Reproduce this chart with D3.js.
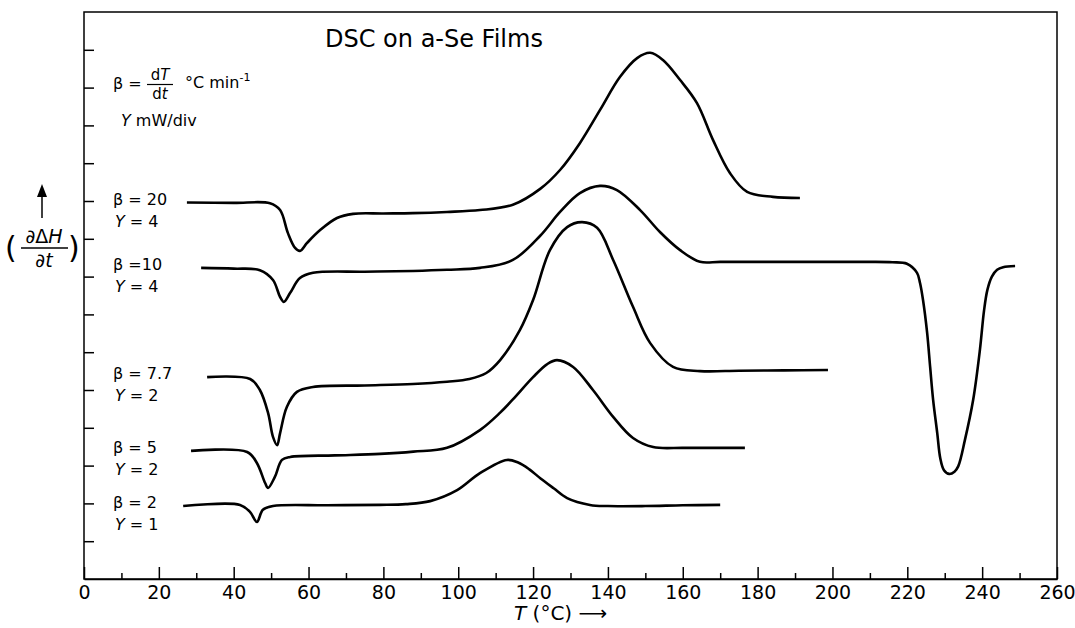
<!DOCTYPE html>
<meta charset="utf-8">
<script src="https://d3js.org/d3.v7.min.js"></script>
<style>
body { margin: 0; background: #fff; }
text { font-family: "DejaVu Sans", sans-serif; fill: #000; }
</style>
<div id="chart"></div>
<script>

// temperature (°C) and signal (in chart divisions) for each run
var t20 = [27.5, 40.0, 49.7, 52.4, 54.5, 56.4, 57.7, 59.6, 63.1, 67.6, 71.9, 80.0, 87.9, 97.0, 105.8, 114.6, 121.9, 127.2, 132.5, 137.9, 143.2, 147.8, 151.3, 154.7, 159.3, 163.8, 168.1, 172.6, 177.2, 184.1, 191.3];
var s20 = [9.96, 9.95, 9.94, 9.76, 9.15, 8.76, 8.68, 8.89, 9.23, 9.55, 9.66, 9.67, 9.68, 9.71, 9.76, 9.90, 10.32, 10.82, 11.53, 12.41, 13.28, 13.78, 13.92, 13.73, 13.20, 12.59, 11.61, 10.74, 10.24, 10.11, 10.08];

var t10 = [31.3, 40.0, 47.0, 50.5, 52.4, 53.4, 55.1, 57.7, 61.2, 75.0, 87.9, 97.0, 105.8, 114.6, 121.9, 127.2, 132.5, 137.9, 142.4, 148.6, 153.9, 159.3, 164.6, 170.0, 180.0, 190.0, 202.0, 210.0, 216.0, 219.9, 222.6, 223.4, 224.2, 225.3, 226.1, 226.9, 228.0, 228.8, 229.8, 231.2, 232.6, 233.6, 235.4, 237.6, 239.4, 240.5, 241.4, 242.6, 244.0, 245.6, 248.8];
var s10 = [8.23, 8.21, 8.17, 7.91, 7.46, 7.33, 7.57, 7.96, 8.10, 8.13, 8.15, 8.18, 8.23, 8.44, 9.08, 9.71, 10.21, 10.40, 10.29, 9.76, 9.18, 8.70, 8.39, 8.39, 8.39, 8.39, 8.39, 8.39, 8.38, 8.34, 8.10, 7.83, 7.38, 6.51, 5.61, 4.74, 3.86, 3.20, 2.88, 2.78, 2.84, 2.98, 3.68, 4.74, 6.06, 7.10, 7.65, 8.00, 8.18, 8.25, 8.28];

var t77 = [32.9, 44.4, 47.0, 49.2, 50.5, 51.6, 52.4, 54.2, 56.9, 61.2, 75.0, 87.9, 97.0, 103.0, 107.5, 111.2, 116.5, 120.0, 124.5, 129.1, 133.1, 137.1, 141.4, 146.7, 151.3, 157.4, 164.6, 175.0, 187.0, 198.8];
var s77 = [5.34, 5.29, 5.00, 4.39, 3.76, 3.54, 3.86, 4.55, 4.95, 5.08, 5.12, 5.16, 5.22, 5.29, 5.45, 5.79, 6.59, 7.38, 8.70, 9.31, 9.44, 9.29, 8.44, 7.20, 6.24, 5.61, 5.50, 5.51, 5.52, 5.53];

var t5 = [28.6, 43.6, 46.2, 48.4, 49.2, 51.0, 52.9, 55.1, 67.0, 79.1, 88.0, 97.0, 105.8, 111.2, 114.6, 120.0, 123.7, 126.4, 130.7, 136.0, 141.4, 146.7, 152.1, 160.1, 168.0, 176.6];
var s5 = [3.39, 3.36, 3.07, 2.54, 2.41, 2.70, 3.15, 3.23, 3.27, 3.31, 3.37, 3.47, 3.94, 4.40, 4.75, 5.34, 5.68, 5.79, 5.61, 5.00, 4.29, 3.73, 3.49, 3.47, 3.47, 3.47];

var t2 = [26.5, 41.7, 44.4, 46.2, 47.8, 50.5, 65.0, 79.1, 86.0, 92.5, 99.7, 105.8, 113.0, 116.0, 119.0, 122.0, 125.5, 129.1, 135.2, 140.0, 150.0, 160.0, 170.0];
var s2 = [1.93, 1.96, 1.77, 1.51, 1.83, 1.93, 1.95, 1.96, 1.98, 2.06, 2.35, 2.80, 3.15, 3.08, 2.90, 2.66, 2.40, 2.14, 1.96, 1.93, 1.93, 1.95, 1.96];

var betaLabels = ["β = 20", "β =10", "β = 7.7", "β = 5", "β = 2"];
var gammaValues = ["= 4", "= 4", "= 2", "= 2", "= 1"];
var xMajorTicks = [0, 20, 40, 60, 80, 100, 120, 140, 160, 180, 200, 220, 240, 260];
var xMinorTicks = [10, 30, 50, 70, 90, 110, 130, 150, 170, 190, 210, 230, 250];
var yTicks = [1, 2, 3, 4, 5, 6, 7, 8, 9, 10, 11, 12, 13, 14];

var runs = [[t20, s20], [t10, s10], [t77, s77], [t5, s5], [t2, s2]];

var width = 1075, height = 628;

var svg = d3.select("#chart")
  .append("svg")
    .attr("width", width)
    .attr("height", height);

var x = d3.scaleLinear().domain([0, 260]).range([84, 1057]);
var y = d3.scaleLinear().domain([0, 15]).range([579, 12]);

// frame
svg.append("rect")
  .attr("x", x(0))
  .attr("y", y(15))
  .attr("width", x(260) - x(0))
  .attr("height", y(0) - y(15))
  .attr("fill", "none")
  .attr("stroke", "#000")
  .attr("stroke-width", 1.5);

// bottom axis, ticks pointing inwards
var xAxis = svg.append("g")
  .attr("transform", "translate(0," + y(0) + ")")
  .call(d3.axisBottom(x).tickValues(xMajorTicks).tickSizeInner(-12).tickSizeOuter(0).tickPadding(7));
xAxis.selectAll("text").style("font-size", "19px").style("font-family", "DejaVu Sans");

svg.append("g")
  .attr("transform", "translate(0," + y(0) + ")")
  .call(d3.axisBottom(x).tickValues(xMinorTicks).tickSizeInner(-6).tickSizeOuter(0).tickFormat(""))
  .select(".domain").remove();

svg.append("g")
  .attr("transform", "translate(" + x(0) + ",0)")
  .call(d3.axisLeft(y).tickValues(yTicks).tickSizeInner(-10).tickSizeOuter(0).tickFormat(""))
  .select(".domain").remove();

svg.selectAll(".tick line, .domain").attr("stroke", "#000").attr("stroke-width", 1.5);

// curves
var line = d3.line()
  .x(function(d) { return x(d[0]); })
  .y(function(d) { return y(d[1]); })
  .curve(d3.curveCatmullRom.alpha(0.5));

runs.forEach(function(r, i) {
  var pts = r[0].map(function(t, j) { return [t, r[1][j]]; });
  svg.append("path")
    .attr("d", line(pts))
    .attr("fill", "none")
    .attr("stroke", "#000")
    .attr("stroke-width", 2.6)
    .attr("stroke-linejoin", "round");

  var y0 = y(r[1][0]);
  svg.append("text")
    .attr("x", 113)
    .attr("y", y0 + 2)
    .style("font-size", "16px")
    .text(betaLabels[i]);
  var g = svg.append("text")
    .attr("x", 115)
    .attr("y", y0 + 24)
    .style("font-size", "16px");
  g.append("tspan").style("font-style", "italic").text("Y");
  g.append("tspan").text(" " + gammaValues[i]);
});

// title
svg.append("text")
  .attr("x", 325)
  .attr("y", 47)
  .style("font-size", "24px")
  .text("DSC on a-Se Films");

// legend: beta = dT/dt °C min-1
svg.append("text").attr("x", 113).attr("y", 89).style("font-size", "16px").text("β =");
var num = svg.append("text").attr("x", 160).attr("y", 80).attr("text-anchor", "middle").style("font-size", "15px");
num.append("tspan").text("d");
num.append("tspan").style("font-style", "italic").text("T");
svg.append("line").attr("x1", 147).attr("x2", 173).attr("y1", 84.5).attr("y2", 84.5)
  .attr("stroke", "#000").attr("stroke-width", 1.2);
var den = svg.append("text").attr("x", 160).attr("y", 99).attr("text-anchor", "middle").style("font-size", "15px");
den.append("tspan").text("d");
den.append("tspan").style("font-style", "italic").text("t");
var unit = svg.append("text").attr("x", 185).attr("y", 88).style("font-size", "16px");
unit.append("tspan").text("°C min");
unit.append("tspan").attr("dy", -7).style("font-size", "11px").text("-1");

var gl = svg.append("text").attr("x", 121).attr("y", 126).style("font-size", "16px");
gl.append("tspan").style("font-style", "italic").text("Y");
gl.append("tspan").text(" mW/div");

// y axis label with arrow
svg.append("line").attr("x1", 42).attr("x2", 42).attr("y1", 218).attr("y2", 194)
  .attr("stroke", "#000").attr("stroke-width", 1.5);
svg.append("path").attr("d", "M37,197 L42,184 L47,197 Z").attr("fill", "#000");
svg.append("text").attr("x", 5).attr("y", 258).style("font-size", "30px").text("(");
svg.append("text").attr("x", 68).attr("y", 258).style("font-size", "30px").text(")");
var yn = svg.append("text").attr("x", 44).attr("y", 243).attr("text-anchor", "middle").style("font-size", "19px");
yn.append("tspan").text("∂Δ");
yn.append("tspan").style("font-style", "italic").text("H");
svg.append("line").attr("x1", 21).attr("x2", 68).attr("y1", 248).attr("y2", 248)
  .attr("stroke", "#000").attr("stroke-width", 1.5);
var yd = svg.append("text").attr("x", 44).attr("y", 267).attr("text-anchor", "middle").style("font-size", "19px");
yd.append("tspan").text("∂");
yd.append("tspan").style("font-style", "italic").text("t");

// x axis label
var xl = svg.append("text").attr("x", 514).attr("y", 620).style("font-size", "20px");
xl.append("tspan").style("font-style", "italic").text("T");
xl.append("tspan").text(" (°C) ⟶");

</script>
